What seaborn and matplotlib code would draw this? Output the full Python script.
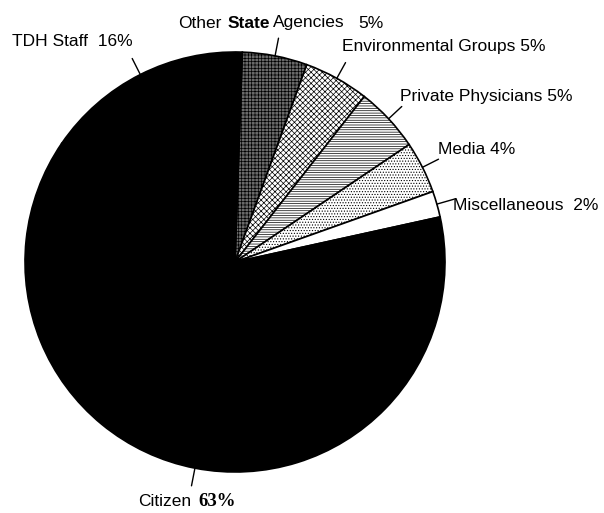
import matplotlib
matplotlib.use("Agg")
import matplotlib.pyplot as plt
import seaborn as sns
import numpy as np

# data (clockwise from 12 o'clock)
categories = ["Other State Agencies", "Environmental Groups", "Private Physicians",
              "Media", "Miscellaneous", "Citizen", "TDH Staff"]
shares = [5, 5, 5, 4, 2, 63, 16]

# styling per slice
face_cols = ["#6a6a6a", "white", "white", "white", "white", "black", "black"]
hatches = ["+++++", "xxxxxx", "-------", "......", "", "", ""]

sns.set_style("white")
plt.rcParams["font.family"] = ["Liberation Sans", "DejaVu Sans"]
plt.rcParams["hatch.linewidth"] = 0.5

W, H = 604, 513
fig = plt.figure(figsize=(W / 100, H / 100), dpi=100)
ax = fig.add_axes([0, 0, 1, 1])

cx, cy, R = 235, H - 262, 210
wedges, _ = ax.pie(shares, startangle=88, counterclock=False, center=(cx, cy),
                   radius=R, colors=face_cols, frame=True,
                   wedgeprops=dict(edgecolor="black", linewidth=1.2))
for w, h in zip(wedges, hatches):
    w.set_hatch(h)
ax.set_xlim(0, W)
ax.set_ylim(0, H)
ax.set_aspect("equal")
ax.axis("off")

# leader lines from the middle of each slice
lead = 18
for w in wedges:
    ang = np.deg2rad((w.theta1 + w.theta2) / 2)
    x0, y0 = cx + R * np.cos(ang), cy + R * np.sin(ang)
    x1, y1 = cx + (R + lead) * np.cos(ang), cy + (R + lead) * np.sin(ang)
    ax.plot([x0, x1], [y0, y1], color="black", lw=1)

def txt(x, y, s, **kw):
    opts = dict(fontsize=12.5, ha="left", va="center", color="black")
    opts.update(kw)
    ax.text(x, H - y, s, **opts)

txt(178, 23, "Other")
txt(228, 23, "State", family=["Liberation Sans"], fontweight="bold")
txt(273, 23, "Agencies")
txt(358, 23, "5%")
txt(342, 47, f"{categories[1]} {shares[1]}%")
txt(400, 97, f"{categories[2]} {shares[2]}%")
txt(438, 150, f"{categories[3]} {shares[3]}%")
txt(453, 205, f"{categories[4]}  {shares[4]}%")
txt(12, 42, f"{categories[6]}  {shares[6]}%")
txt(138, 502, categories[5])
txt(198, 502, f"{shares[5]}%", family=["Liberation Serif"], fontweight="bold", fontsize=13.5)

fig.savefig("out.png", dpi=100)
